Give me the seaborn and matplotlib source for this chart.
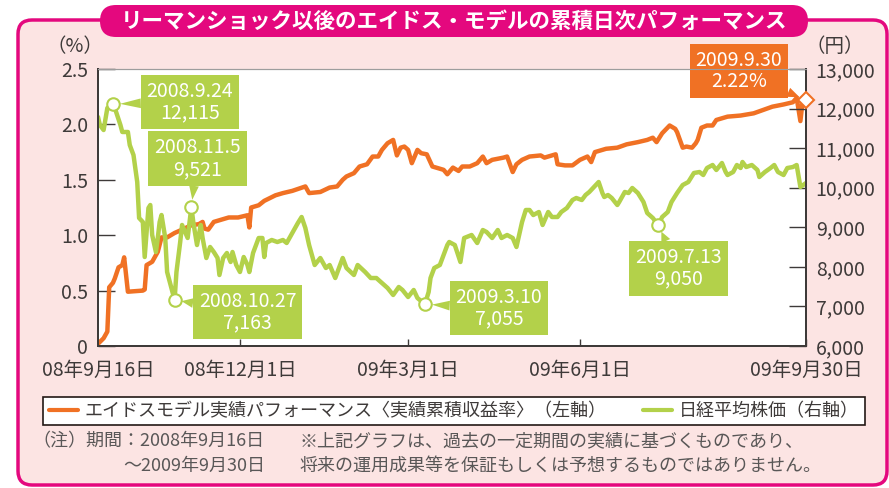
import matplotlib.pyplot as plt
from matplotlib.patches import FancyBboxPatch
from matplotlib.lines import Line2D
import seaborn as sns
import pandas as pd

# データ (2008年9月16日からの経過日数)
start = pd.Timestamp('2008-09-16')

eidos_days = [0, 3, 5, 6, 8, 9, 11, 13, 14, 16, 24, 25, 26, 29, 32, 34, 37, 41, 45, 50,
              54, 56, 57, 59, 62, 66, 70, 75, 80, 81, 82, 86, 89, 95, 99, 104, 111, 113,
              119, 124, 128, 131, 133, 137, 140, 144, 147, 150, 152, 155, 158, 160, 162,
              164, 166, 168, 171, 173, 176, 179, 181, 185, 187, 190, 193, 195, 199, 203,
              206, 208, 211, 217, 219, 222, 224, 227, 231, 237, 239, 245, 246, 250, 254,
              258, 262, 264, 266, 272, 278, 283, 289, 294, 297, 299, 302, 306, 309, 310,
              313, 315, 318, 320, 321, 323, 326, 329, 331, 337, 344, 351, 356, 361, 367,
              372, 374, 376, 377, 379]
eidos_pct = [0.02, 0.07, 0.13, 0.53, 0.57, 0.61, 0.71, 0.73, 0.80, 0.49, 0.50, 0.51, 0.73,
             0.76, 0.85, 0.98, 0.98, 1.02, 1.05, 1.09, 1.10, 1.12, 1.06, 1.05, 1.12, 1.14,
             1.16, 1.16, 1.18, 1.07, 1.25, 1.27, 1.31, 1.36, 1.38, 1.40, 1.44, 1.38, 1.39,
             1.43, 1.44, 1.50, 1.53, 1.56, 1.62, 1.64, 1.71, 1.71, 1.77, 1.83, 1.86, 1.72,
             1.79, 1.80, 1.77, 1.65, 1.77, 1.74, 1.73, 1.62, 1.61, 1.59, 1.55, 1.61, 1.58,
             1.62, 1.62, 1.65, 1.71, 1.65, 1.68, 1.70, 1.71, 1.57, 1.64, 1.68, 1.71, 1.72,
             1.70, 1.73, 1.64, 1.63, 1.63, 1.68, 1.71, 1.66, 1.75, 1.78, 1.79, 1.82, 1.84,
             1.86, 1.88, 1.84, 1.92, 1.99, 1.96, 1.93, 1.79, 1.80, 1.79, 1.83, 1.86, 1.97,
             1.99, 1.99, 2.04, 2.07, 2.08, 2.10, 2.13, 2.16, 2.18, 2.20, 2.24, 2.03, 2.18,
             2.22]

nikkei_days = [0, 1, 3, 5, 8, 9, 12, 13, 16, 17, 19, 21, 22, 24, 25, 27, 28, 29, 31, 32,
               33, 34, 36, 37, 41, 42, 44, 45, 48, 50, 51, 53, 55, 56, 58, 60, 62, 64, 65,
               67, 69, 71, 72, 74, 76, 78, 80, 81, 83, 86, 88, 89, 90, 93, 96, 99, 101, 104,
               107, 109, 111, 113, 116, 119, 122, 124, 127, 131, 133, 137, 139, 143, 146,
               149, 155, 158, 161, 163, 166, 169, 171, 175, 177, 178, 180, 183, 187, 188,
               191, 194, 196, 200, 203, 206, 208, 211, 214, 216, 219, 222, 224, 227, 229,
               231, 233, 236, 238, 241, 243, 246, 248, 251, 254, 256, 259, 261, 263, 265,
               268, 270, 271, 273, 275, 278, 279, 282, 284, 286, 289, 292, 294, 297, 300,
               302, 305, 307, 310, 313, 316, 319, 322, 324, 326, 329, 331, 334, 336, 337,
               340, 342, 344, 345, 347, 350, 353, 354, 357, 360, 362, 364, 367, 369, 372,
               374, 376, 379]
nikkei_yen = [11787, 11585, 11458, 12014, 12115, 12014, 11585, 11408, 11408, 11079, 10826,
              10144, 9235, 9133, 8249, 9487, 9563, 8805, 8375, 8729, 9133, 9310, 8729, 7870,
              7163, 7870, 8628, 9058, 8729, 9521, 9133, 8552, 9058, 8729, 8224, 8502, 8375,
              8224, 7794, 8224, 8350, 8123, 8375, 8047, 7870, 8249, 8047, 7870, 8350, 8729,
              8729, 8249, 8603, 8679, 8628, 8679, 8603, 8856, 9108, 9260, 8982, 8552, 8047,
              8224, 7971, 8047, 7718, 8224, 7971, 7794, 8047, 7870, 7718, 7718, 7466, 7289,
              7491, 7415, 7238, 7415, 7213, 7055, 7365, 7718, 7971, 8047, 8552, 8628, 8552,
              8123, 8729, 8805, 8603, 8931, 8881, 8729, 8931, 8729, 8805, 8729, 8502, 9133,
              9437, 9437, 9310, 9386, 9058, 9386, 9260, 9260, 9386, 9487, 9689, 9740, 9689,
              9816, 9892, 9993, 10144, 9866, 9765, 9816, 9740, 9563, 9639, 9892, 9866, 9993,
              9866, 9639, 9361, 9235, 9050, 9260, 9386, 9639, 9866, 10068, 10144, 10372,
              10397, 10321, 10498, 10574, 10448, 10624, 10397, 10321, 10397, 10574, 10498,
              10650, 10523, 10574, 10448, 10271, 10397, 10498, 10574, 10397, 10321, 10498,
              10523, 10574, 10018, 10119]

# 注記 (日付, 値)
nikkei_notes = [('2008-09-24', 12115), ('2008-11-05', 9521), ('2008-10-27', 7163),
                ('2009-03-10', 7055), ('2009-07-13', 9050)]
eidos_note = ('2009-09-30', 2.22)

x_ticks = ['2008-09-16', '2008-12-01', '2009-03-01', '2009-06-01', '2009-09-30']
x_labels = ['08年9月16日', '08年12月1日', '09年3月1日', '09年6月1日', '09年9月30日']

ORANGE = '#F07124'
GREEN = '#B3D14A'
MAGENTA = '#E4087E'
PINK = '#FCE4E3'
DARK = '#3E3A39'

sns.set_theme(style="white")
plt.rcParams['font.family'] = ['Noto Sans CJK JP', 'DejaVu Sans']

df_e = pd.DataFrame({'date': start + pd.to_timedelta(eidos_days, unit='D'), 'pct': eidos_pct})
df_n = pd.DataFrame({'date': start + pd.to_timedelta(nikkei_days, unit='D'), 'yen': nikkei_yen})

fig = plt.figure(figsize=(8.89, 4.88), dpi=100)
fig.patch.set_facecolor('white')

# 枠とタイトル (軸の下に描く)
fig.patches.append(FancyBboxPatch((0.18, 0.03), 8.69, 4.65,
                                  boxstyle='round,pad=0,rounding_size=0.14',
                                  transform=fig.dpi_scale_trans, fc=PINK, ec=MAGENTA, lw=2.5,
                                  zorder=-5))
fig.patches.append(FancyBboxPatch((1.00, 4.51), 7.08, 0.32,
                                  boxstyle='round,pad=0,rounding_size=0.16',
                                  transform=fig.dpi_scale_trans, fc=MAGENTA, ec='none',
                                  zorder=-4))
fig.text(4.54 / 8.89, 4.67 / 4.88, 'リーマンショック以後のエイドス・モデルの累積日次パフォーマンス',
         ha='center', va='center', color='white', fontsize=15.5, fontweight='bold')

ax = fig.add_axes([98 / 889, 1 - 346 / 488, 708 / 889, 277 / 488])
ax.set_facecolor('white')
sns.lineplot(data=df_e, x='date', y='pct', ax=ax, color=ORANGE, lw=3.2)
ax2 = ax.twinx()
sns.lineplot(data=df_n, x='date', y='yen', ax=ax2, color=GREEN, lw=3.2)

ax.set_xlim(start, pd.Timestamp('2009-09-30'))
ax.set_ylim(0, 2.5)
ax2.set_ylim(6000, 13000)
ax.set_yticks([0, 0.5, 1.0, 1.5, 2.0, 2.5])
ax.set_yticklabels(['0', '0.5', '1.0', '1.5', '2.0', '2.5'])
ax2.set_yticks(range(6000, 13001, 1000))
ax2.set_yticklabels([f'{v:,}' for v in range(6000, 13001, 1000)])
ax.set_xticks(pd.to_datetime(x_ticks))
ax.set_xticklabels(x_labels)
ax.set_xlabel('')
ax.set_ylabel('')
ax2.set_ylabel('')

ax.tick_params(axis='y', direction='in', length=12, width=1, color=DARK, labelcolor=DARK,
               labelsize=14, pad=7, left=True)
ax2.tick_params(axis='y', direction='in', length=12, width=1, color=DARK, labelcolor=DARK,
                labelsize=14, pad=7, right=True)
ax.tick_params(axis='x', direction='in', length=5, width=1, color=DARK, labelcolor=DARK,
               labelsize=14, pad=10, bottom=True)
for a in (ax, ax2):
    for s in ('left', 'bottom', 'right'):
        a.spines[s].set_color(DARK)
        a.spines[s].set_linewidth(1.4)
    a.spines['top'].set_color('#9D9D9D')
    a.spines['top'].set_linewidth(0.8)

fig.text(75 / 889, 1 - 47 / 488, '（%）', ha='center', va='center', fontsize=14, color=DARK)
fig.text(835 / 889, 1 - 47 / 488, '（円）', ha='center', va='center', fontsize=14, color=DARK)

# 注記
offsets = [(77, 2), (6, 48), (73, -12), (74, -4), (20, -43)]
for (d, v), (dx, dy) in zip(nikkei_notes, offsets):
    dt = pd.Timestamp(d)
    ax2.annotate(f'{dt.year}.{dt.month}.{dt.day}\n{v:,}', xy=(dt, v), xytext=(dx, dy),
                 textcoords='offset pixels', ha='center', va='center', color='white',
                 fontsize=14, linespacing=1.05, zorder=6, annotation_clip=False,
                 bbox=dict(boxstyle='square,pad=0.3', fc=GREEN, ec='none'),
                 arrowprops=dict(arrowstyle='wedge,tail_width=0.5', fc=GREEN, ec='none',
                                 shrinkA=0, shrinkB=5))
    ax2.plot(dt, v, 'o', ms=9, mfc='white', mec=GREEN, mew=1.5, zorder=7, clip_on=False)

dt = pd.Timestamp(eidos_note[0])
ax.annotate(f'{dt.year}.{dt.month}.{dt.day}\n{eidos_note[1]:.2f}%', xy=(dt, eidos_note[1]),
            xytext=(-67, 29), textcoords='offset pixels', ha='center', va='center',
            color='white', fontsize=14, linespacing=1.05, zorder=6, annotation_clip=False,
            bbox=dict(boxstyle='square,pad=0.3', fc=ORANGE, ec='none'),
            arrowprops=dict(arrowstyle='wedge,tail_width=0.5', fc=ORANGE, ec='none',
                            shrinkA=0, shrinkB=5))
ax2.plot(dt, 6000 + eidos_note[1] / 2.5 * 7000, 'D', ms=8, mfc='white', mec=ORANGE, mew=1.5,
         zorder=7, clip_on=False)

# 凡例
handles = [Line2D([0], [0], color=ORANGE, lw=3), Line2D([0], [0], color=GREEN, lw=3)]
labels = ['エイドスモデル実績パフォーマンス〈実績累積収益率〉（左軸）', '日経平均株価（右軸）']
leg = fig.legend(handles, labels, loc='center', bbox_to_anchor=(454 / 889, 1 - 411 / 488),
                 ncol=2, frameon=True, fancybox=False, edgecolor='#231815', facecolor='white',
                 framealpha=1, fontsize=13, handlelength=1.6, columnspacing=2.0,
                 borderpad=0.3, handletextpad=0.4)
leg.get_frame().set_linewidth(1.2)
for t in leg.get_texts():
    t.set_color(DARK)

# 注釈
NOTE = '#595757'
fig.text(32 / 889, 1 - 441 / 488, '（注）期間：2008年9月16日', ha='left', va='center', fontsize=13, color=NOTE)
fig.text(265 / 889, 1 - 466 / 488, '～2009年9月30日', ha='right', va='center', fontsize=13, color=NOTE)
fig.text(300 / 889, 1 - 441 / 488, '※上記グラフは、過去の一定期間の実績に基づくものであり、',
         ha='left', va='center', fontsize=13, color=NOTE)
fig.text(300 / 889, 1 - 466 / 488, '将来の運用成果等を保証もしくは予想するものではありません。',
         ha='left', va='center', fontsize=13, color=NOTE)

fig.savefig('out.png', dpi=100)
